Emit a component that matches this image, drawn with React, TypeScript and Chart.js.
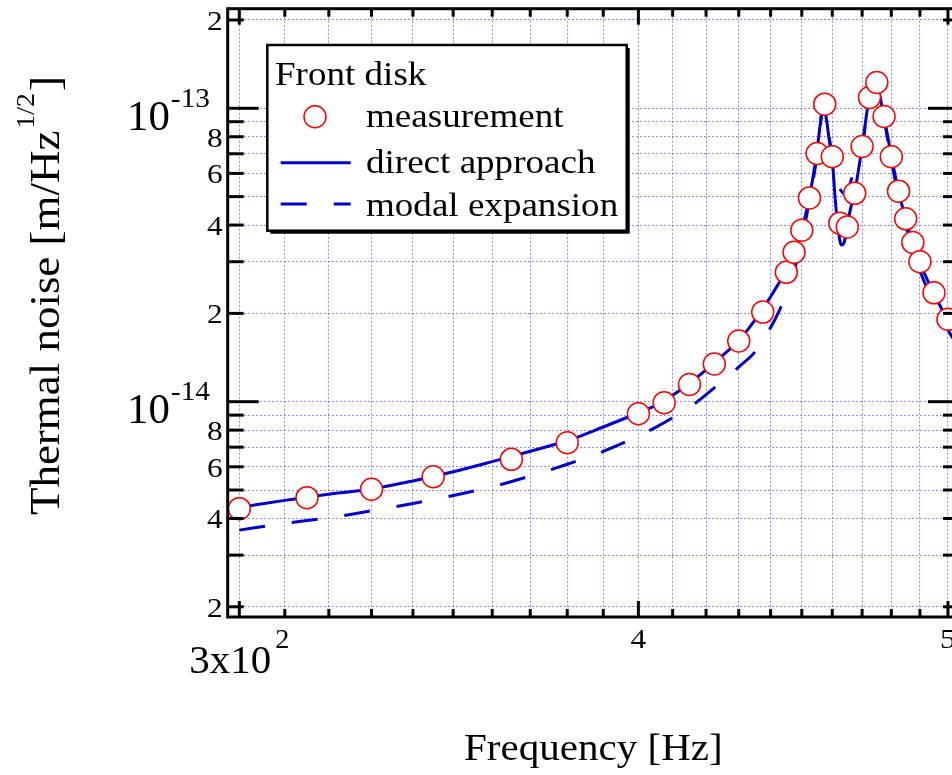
import React, { useEffect, useRef } from "react";
import { Chart, registerables } from "chart.js";

Chart.register(...registerables);

// ---------- data ----------
const measFreq = [300, 315, 330, 345, 365, 380, 400, 407.5, 415, 422.5, 430, 437.5, 445, 447.5, 450, 452.5, 455, 457.5, 460, 462.5, 465, 467.5, 470, 472.5, 475, 477.5, 480, 482.5, 485, 487.5, 490, 495, 500];
const measNoise = [4.32e-15, 4.71e-15, 5.03e-15, 5.55e-15, 6.36e-15, 7.25e-15, 9.1e-15, 9.92e-15, 1.145e-14, 1.344e-14, 1.61e-14, 2.02e-14, 2.76e-14, 3.23e-14, 3.84e-14, 4.95e-14, 7.01e-14, 1.033e-13, 6.84e-14, 4.06e-14, 3.94e-14, 5.13e-14, 7.41e-14, 1.089e-13, 1.224e-13, 9.38e-14, 6.84e-14, 5.22e-14, 4.2e-14, 3.49e-14, 3.0e-14, 2.35e-14, 1.91e-14];

const curveFreq = [300, 310, 320, 330, 340, 350, 360, 370, 380, 390, 400, 405, 410, 415, 420, 425, 430, 435, 440, 442.5, 445, 447.5, 450, 452.5, 455, 456, 457, 458, 459, 460, 461, 462, 463, 464, 465, 466, 467.5, 470, 472.5, 474, 475, 476, 477.5, 480, 482.5, 485, 487.5, 490, 495, 500, 505];
const directNoise = [4.36e-15, 4.61e-15, 4.84e-15, 5.04e-15, 5.37e-15, 5.77e-15, 6.25e-15, 6.78e-15, 7.36e-15, 8.2e-15, 9.17e-15, 9.72e-15, 1.052e-14, 1.156e-14, 1.284e-14, 1.436e-14, 1.618e-14, 1.894e-14, 2.279e-14, 2.522e-14, 2.798e-14, 3.276e-14, 3.878e-14, 4.986e-14, 7.208e-14, 8.773e-14, 1.034e-13, 9.268e-14, 7.798e-14, 6.665e-14, 4.87e-14, 3.848e-14, 3.42e-14, 3.502e-14, 3.971e-14, 4.501e-14, 5.185e-14, 7.409e-14, 1.101e-13, 1.229e-13, 1.239e-13, 1.11e-13, 9.34e-14, 6.878e-14, 5.226e-14, 4.196e-14, 3.474e-14, 2.97e-14, 2.338e-14, 1.884e-14, 1.561e-14];
const modalNoise = [3.65e-15, 3.85e-15, 4.02e-15, 4.25e-15, 4.5e-15, 4.79e-15, 5.13e-15, 5.58e-15, 6.12e-15, 6.77e-15, 7.64e-15, 8.18e-15, 8.82e-15, 9.56e-15, 1.057e-14, 1.176e-14, 1.313e-14, 1.475e-14, 1.79e-14, 2.016e-14, 2.334e-14, 2.785e-14, 3.557e-14, 4.87e-14, 6.932e-14, 8.569e-14, 1.026e-13, 9.268e-14, 7.921e-14, 6.932e-14, 5.971e-14, 5.479e-14, 5.226e-14, 5.105e-14, 5.185e-14, 5.566e-14, 6.259e-14, 7.438e-14, 1.093e-13, 1.21e-13, 1.22e-13, 1.093e-13, 9.195e-14, 6.665e-14, 5.025e-14, 4.003e-14, 3.289e-14, 2.789e-14, 2.17e-14, 1.756e-14, 1.477e-14];

// axis ticks / grid
const xGrid = [300, 310, 320, 330, 340, 350, 360, 370, 380, 390, 400, 410, 420, 430, 440, 450, 460, 470, 480, 490, 500];
const xMajor = [300, 400, 500];
const yGrid = [2e-15, 3e-15, 4e-15, 5e-15, 6e-15, 7e-15, 8e-15, 9e-15, 1e-14, 2e-14, 3e-14, 4e-14, 5e-14, 6e-14, 7e-14, 8e-14, 9e-14, 1e-13, 2e-13];
const yDigitValues = [2e-15, 4e-15, 6e-15, 8e-15, 2e-14, 4e-14, 6e-14, 8e-14, 2e-13];
const yDigitTexts = ["2", "4", "6", "8", "2", "4", "6", "8", "2"];
const yDecadeValues = [1e-14, 1e-13];
const yDecadeExps = ["-14", "-13"];
const xLabelValues = [400, 500];
const xLabelTexts = ["4", "5"];

const X_MIN = 297.5;
const X_MAX = 504;
const Y_MIN = 1.846e-15;
const Y_MAX = 2.185e-13;

const CANVAS_W = 975;
const CANVAS_H = 775;
const BLUE = "#0000cc";
const FONT = '"Liberation Serif", "Times New Roman", serif';

function drawText(ctx: CanvasRenderingContext2D, s: string, x: number, y: number, size: number, sx = 1, align: CanvasTextAlign = "left") {
  ctx.save();
  ctx.font = `${size}px ${FONT}`;
  ctx.fillStyle = "#000";
  ctx.translate(x, y);
  ctx.scale(sx, 1);
  ctx.textAlign = align;
  ctx.textBaseline = "alphabetic";
  ctx.fillText(s, 0, 0);
  ctx.restore();
}

function textW(ctx: CanvasRenderingContext2D, s: string, size: number, sx = 1) {
  ctx.save();
  ctx.font = `${size}px ${FONT}`;
  const w = ctx.measureText(s).width * sx;
  ctx.restore();
  return w;
}

function seg(ctx: CanvasRenderingContext2D, x1: number, y1: number, x2: number, y2: number) {
  ctx.beginPath();
  ctx.moveTo(x1, y1);
  ctx.lineTo(x2, y2);
  ctx.stroke();
}

const overlayPlugin = {
  id: "overlay",
  afterDraw(chart: any) {
    const ctx: CanvasRenderingContext2D = chart.ctx;
    const { left, right, top, bottom } = chart.chartArea;
    const xs = chart.scales.x;
    const ys = chart.scales.y;
    ctx.save();
    ctx.strokeStyle = "#000";
    ctx.lineWidth = 3;
    ctx.lineCap = "butt";
    ctx.strokeRect(left, top, right - left, bottom - top);

    // y ticks (inward, both sides)
    yGrid.forEach((v) => {
      const y = ys.getPixelForValue(v);
      const lg = Math.log10(v);
      const len = Math.abs(lg - Math.round(lg)) < 1e-6 ? 31 : 16;
      seg(ctx, left, y, left + len, y);
      seg(ctx, right, y, right - len, y);
    });
    // x ticks (inward, both sides)
    xGrid.forEach((v) => {
      const x = xs.getPixelForValue(v);
      const len = xMajor.includes(v) ? 16 : 8;
      seg(ctx, x, bottom, x, bottom - len);
      seg(ctx, x, top, x, top + len);
    });

    // y tick labels
    yDigitValues.forEach((v, i) => {
      const y = ys.getPixelForValue(v);
      drawText(ctx, yDigitTexts[i], left - 5, y + 10, 28, 1.12, "right");
    });
    yDecadeValues.forEach((v, i) => {
      const y = ys.getPixelForValue(v);
      const x0 = 127;
      drawText(ctx, "10", x0, y + 21.7, 42, 1.02);
      const w = textW(ctx, "10", 42, 1.02);
      drawText(ctx, yDecadeExps[i], x0 + w + 1, y - 1.6, 28, 1.05);
    });

    // x tick labels
    {
      const x300 = xs.getPixelForValue(300);
      const wMain = textW(ctx, "3x10", 39, 1.05);
      const wSup = textW(ctx, "2", 27, 1.05);
      const x0 = x300 - (wMain + wSup + 4) / 2;
      drawText(ctx, "3x10", x0, 673.3, 39, 1.05);
      drawText(ctx, "2", x0 + wMain + 4, 648.3, 27, 1.05);
    }
    xLabelValues.forEach((v, i) => {
      const x = xs.getPixelForValue(v);
      drawText(ctx, xLabelTexts[i], x, 648.3, 28, 1.12, "center");
    });

    // axis titles
    drawText(ctx, "Frequency [Hz]", (left + right) / 2, 760, 38, 1.08, "center");
    {
      ctx.save();
      ctx.translate(59, 515);
      ctx.rotate(-Math.PI / 2);
      const t1 = "Thermal noise [m/Hz";
      drawText(ctx, t1, 0, 0, 42, 1.07);
      const w1 = textW(ctx, t1, 42, 1.07);
      drawText(ctx, "1/2", w1 + 2, -25, 26, 1.07);
      const w2 = textW(ctx, "1/2", 26, 1.07);
      drawText(ctx, "]", w1 + w2 + 4, 0, 42, 1.07);
      ctx.restore();
    }

    // legend box
    const bx = 267.3, by = 45, bw = 359.4, bh = 185.7;
    ctx.fillStyle = "#000";
    ctx.fillRect(bx + 3, by + 3, bw, bh);
    ctx.fillStyle = "#fff";
    ctx.fillRect(bx, by, bw, bh);
    ctx.lineWidth = 2.5;
    ctx.strokeStyle = "#000";
    ctx.strokeRect(bx, by, bw, bh);

    drawText(ctx, "Front disk", 275, 85, 34, 1.09);
    ctx.beginPath();
    ctx.arc(315, 116.7, 11, 0, Math.PI * 2);
    ctx.fillStyle = "#fff";
    ctx.fill();
    ctx.lineWidth = 1.5;
    ctx.strokeStyle = "#ff0000";
    ctx.stroke();
    drawText(ctx, "measurement", 366, 127.3, 34, 1.09);

    ctx.strokeStyle = BLUE;
    ctx.lineWidth = 3;
    seg(ctx, 280.7, 162.7, 350.7, 162.7);
    drawText(ctx, "direct approach", 366, 173.3, 34, 1.09);

    ctx.setLineDash([26, 27]);
    seg(ctx, 280.7, 204, 350.7, 204);
    ctx.setLineDash([]);
    drawText(ctx, "modal expansion", 366, 216, 34, 1.09);

    ctx.restore();
  },
};

export default function App() {
  const ref = useRef<HTMLCanvasElement | null>(null);

  useEffect(() => {
    if (!ref.current) return;
    const measData = measFreq.map((f, i) => ({ x: f, y: measNoise[i] }));
    const directData = curveFreq.map((f, i) => ({ x: f, y: directNoise[i] }));
    const modalData = curveFreq.map((f, i) => ({ x: f, y: modalNoise[i] }));
    const gridColor = "rgba(110,110,255,0.8)";

    const chart = new Chart(ref.current, {
      type: "line",
      data: {
        datasets: [
          {
            label: "measurement",
            data: measData,
            showLine: false,
            pointRadius: 11,
            pointHoverRadius: 11,
            pointBorderWidth: 1.5,
            pointBorderColor: "#ff0000",
            pointBackgroundColor: "#ffffff",
            order: 0,
          },
          {
            label: "direct approach",
            data: directData,
            borderColor: BLUE,
            borderWidth: 3,
            pointRadius: 0,
            pointHoverRadius: 0,
            cubicInterpolationMode: "monotone",
            fill: false,
            order: 1,
          },
          {
            label: "modal expansion",
            data: modalData,
            borderColor: BLUE,
            borderWidth: 3,
            borderDash: [26, 27],
            pointRadius: 0,
            pointHoverRadius: 0,
            cubicInterpolationMode: "monotone",
            fill: false,
            order: 2,
          },
        ],
      },
      options: {
        responsive: false,
        maintainAspectRatio: false,
        devicePixelRatio: 1,
        animation: false,
        events: [],
        layout: {
          autoPadding: false,
          padding: { left: 227.7, top: 8.7, right: CANVAS_W - 959, bottom: CANVAS_H - 617 },
        },
        plugins: {
          legend: { display: false },
          tooltip: { enabled: false },
        },
        scales: {
          x: {
            type: "logarithmic",
            min: X_MIN,
            max: X_MAX,
            ticks: { display: false },
            grid: { drawTicks: false, color: gridColor, lineWidth: 1 },
            border: { display: false, dash: [2, 2] },
            afterBuildTicks: (scale: any) => {
              scale.ticks = xGrid.map((value) => ({ value }));
            },
            afterFit: (scale: any) => {
              scale.height = 0;
            },
          },
          y: {
            type: "logarithmic",
            min: Y_MIN,
            max: Y_MAX,
            ticks: { display: false },
            grid: { drawTicks: false, color: gridColor, lineWidth: 1 },
            border: { display: false, dash: [2, 2] },
            afterBuildTicks: (scale: any) => {
              scale.ticks = yGrid.map((value) => ({ value }));
            },
            afterFit: (scale: any) => {
              scale.width = 0;
            },
          },
        },
      },
      plugins: [overlayPlugin],
    } as any);

    return () => chart.destroy();
  }, []);

  return (
    <div style={{ position: "fixed", left: 0, top: 0, width: 952, height: 775, overflow: "hidden", background: "#fff" }}>
      <canvas ref={ref} width={CANVAS_W} height={CANVAS_H} style={{ display: "block", width: CANVAS_W, height: CANVAS_H }} />
    </div>
  );
}
